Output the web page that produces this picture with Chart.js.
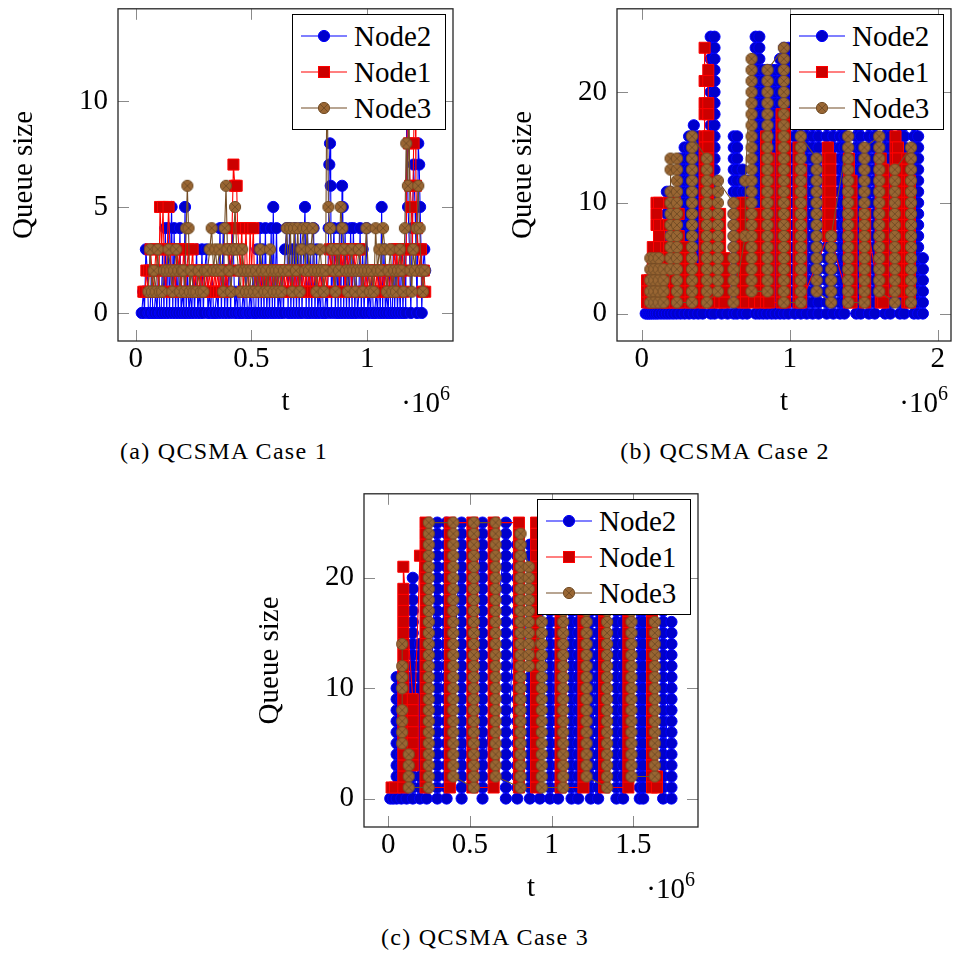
<!DOCTYPE html>
<html>
<head>
<meta charset="utf-8">
<title>QCSMA queue size</title>
<script src="https://cdn.jsdelivr.net/npm/chart.js@4.4.1/dist/chart.umd.min.js"></script>
<style>
  html, body { margin: 0; padding: 0; background: #fff; }
  body { position: relative; width: 955px; height: 954px; overflow: hidden;
         font-family: "Liberation Serif", "DejaVu Serif", "Noto Serif", serif; color: #000; }
  canvas { position: absolute; }
  .legend { position: absolute; width: 154px; height: 116px; box-sizing: border-box;
            border: 1.3px solid #000; background: #fff; }
  .legend .row { position: absolute; left: 8px; height: 36px; display: flex; align-items: center;
                 font-size: 29px; line-height: 1; white-space: nowrap; }
  .legend svg { margin-right: 7px; }
  .mult { position: absolute; font-size: 29px; line-height: 29px; white-space: nowrap; }
  .mult sup { font-size: 20px; vertical-align: 12px; line-height: 0; }
  .caption { position: absolute; font-size: 24px; letter-spacing: 1.3px; line-height: 24px;
             white-space: nowrap; transform: translateX(-50%); }
</style>
</head>
<body>
<canvas id="case1"></canvas>
<canvas id="case2"></canvas>
<canvas id="case3"></canvas>
<script>
// t is in thousands of time units, queue size in packets

const seriesNames = ["Node2", "Node1", "Node3"];

const case1XTicks = [0, 500, 1000];
const case1XTickText = ["0", "0.5", "1"];
const case1YTicks = [0, 5, 10];

const case2XTicks = [0, 1000, 2000];
const case2XTickText = ["0", "1", "2"];
const case2YTicks = [0, 10, 20];

const case3XTicks = [0, 500, 1000, 1500];
const case3XTickText = ["0", "0.5", "1", "1.5"];
const case3YTicks = [0, 10, 20];

// case 1: [t, queue]
const case1Node2 = [[26,0],[33,1],[38,0],[44,3],[50,2],[55,0],[62,0],[68,2],[74,0],[80,0],[86,1],[92,0],[98,2],[104,0],[110,0],[116,3],[122,0],[128,4],[134,0],[140,4],[146,0],[155,5],[160,0],[166,4],[172,0],[178,2],[184,0],[191,4],[196,0],[203,1],[208,0],[213,5],[218,0],[224,2],[230,0],[236,1],[242,0],[248,2],[254,0],[263,3],[268,0],[274,1],[280,0],[286,3],[292,0],[298,2],[306,3],[312,0],[318,1],[324,0],[330,2],[336,0],[342,0],[350,1],[356,0],[364,4],[370,0],[378,4],[384,0],[390,2],[396,0],[404,3],[410,0],[416,4],[422,3],[428,0],[434,1],[440,0],[446,2],[452,0],[458,0],[464,1],[470,0],[476,2],[482,0],[488,0],[494,1],[500,0],[506,2],[512,0],[518,0],[525,3],[530,0],[537,4],[542,0],[548,3],[554,0],[560,4],[566,0],[572,2],[578,0],[585,4],[590,0],[594,5],[600,0],[608,4],[614,0],[620,1],[626,0],[632,2],[638,0],[645,3],[652,4],[658,0],[664,4],[670,0],[676,3],[682,0],[688,4],[694,0],[700,3],[706,0],[712,4],[718,0],[725,3],[731,5],[736,0],[742,4],[748,0],[755,3],[760,0],[768,4],[774,0],[781,3],[786,0],[792,1],[798,0],[804,2],[810,0],[816,0],[822,1],[828,0],[833,4],[836,7],[839,8],[842,6],[845,0],[850,2],[856,4],[862,0],[868,3],[874,0],[880,4],[886,0],[891,6],[894,5],[898,0],[904,4],[910,0],[916,3],[922,0],[928,4],[934,0],[940,4],[946,0],[952,2],[958,0],[964,1],[969,4],[974,0],[980,3],[986,0],[992,2],[997,4],[1002,0],[1008,1],[1014,0],[1020,2],[1026,0],[1032,0],[1038,1],[1044,0],[1050,2],[1056,0],[1062,5],[1066,0],[1072,3],[1078,0],[1084,1],[1090,0],[1096,2],[1102,0],[1108,0],[1112,3],[1118,0],[1124,3],[1130,0],[1136,2],[1142,0],[1148,3],[1154,0],[1160,3],[1166,0],[1170,10],[1176,5],[1182,3],[1188,0],[1194,4],[1200,7],[1206,5],[1210,3],[1215,0],[1220,8],[1224,7],[1228,5],[1232,3],[1235,0],[1240,2],[1246,3],[1250,2]];

const case1Node1 = [[33,1],[40,1],[46,2],[52,1],[58,2],[64,3],[70,2],[76,1],[82,2],[88,3],[94,2],[100,1],[105,5],[112,3],[118,5],[124,2],[130,1],[136,3],[142,5],[148,3],[154,2],[160,1],[166,2],[172,1],[178,3],[184,2],[190,3],[196,1],[202,2],[208,3],[214,1],[220,2],[228,3],[234,1],[240,2],[246,3],[252,1],[258,2],[264,1],[270,2],[276,1],[282,2],[288,1],[294,2],[300,1],[306,2],[312,1],[318,2],[324,1],[330,2],[336,1],[342,2],[348,1],[354,2],[360,1],[366,2],[372,1],[378,2],[384,1],[390,2],[396,1],[402,3],[410,2],[416,4],[422,7],[428,6],[436,6],[440,4],[446,3],[452,2],[458,4],[464,1],[470,2],[476,4],[482,2],[488,1],[494,4],[500,2],[508,4],[514,1],[520,2],[526,1],[532,2],[538,1],[544,2],[550,1],[556,2],[562,1],[568,2],[574,1],[580,2],[586,1],[592,2],[598,1],[604,2],[610,1],[616,2],[622,1],[628,2],[634,1],[640,2],[646,1],[652,2],[658,1],[664,2],[670,1],[676,2],[682,1],[688,2],[694,1],[700,2],[706,1],[712,2],[718,1],[724,2],[730,1],[736,2],[742,1],[748,2],[754,1],[760,2],[766,1],[772,2],[778,1],[784,2],[790,1],[796,2],[802,1],[808,2],[814,1],[820,2],[826,1],[832,2],[838,3],[844,2],[850,3],[856,1],[862,3],[868,2],[874,3],[880,1],[886,3],[892,2],[898,3],[904,1],[911,3],[918,2],[925,3],[932,1],[940,3],[948,2],[955,3],[962,3],[969,3],[975,1],[982,2],[988,1],[994,2],[1000,1],[1006,2],[1012,1],[1018,2],[1024,1],[1030,2],[1036,1],[1042,2],[1048,1],[1054,2],[1060,1],[1066,2],[1072,1],[1078,2],[1084,1],[1090,2],[1096,1],[1102,2],[1108,1],[1115,3],[1122,2],[1128,3],[1134,1],[1140,3],[1146,2],[1152,3],[1158,1],[1164,2],[1168,3],[1174,11],[1180,8],[1185,6],[1190,5],[1195,3],[1200,8],[1206,12],[1210,6],[1214,4],[1220,3],[1226,2],[1232,3],[1238,1],[1244,2],[1250,1]];

const case1Node3 = [[55,1],[62,3],[70,1],[78,2],[86,1],[95,3],[104,1],[114,1],[122,2],[134,2],[142,3],[150,2],[158,1],[166,2],[175,3],[184,2],[192,1],[200,2],[206,2],[212,1],[218,4],[223,6],[228,4],[234,1],[240,2],[250,1],[262,1],[272,2],[282,1],[293,1],[300,2],[310,2],[320,3],[328,4],[336,2],[344,3],[352,2],[362,3],[370,2],[378,1],[384,4],[390,6],[396,3],[404,2],[412,1],[420,3],[429,5],[436,3],[444,2],[452,1],[460,3],[468,2],[476,1],[484,2],[492,1],[500,2],[510,1],[520,2],[530,1],[538,3],[546,2],[556,1],[564,2],[572,1],[580,3],[588,2],[596,1],[604,2],[612,1],[620,2],[630,1],[640,2],[652,4],[660,2],[668,4],[676,1],[684,4],[692,2],[700,4],[708,1],[716,3],[724,4],[732,2],[740,4],[748,2],[756,3],[764,4],[772,2],[780,1],[788,2],[796,3],[804,2],[812,1],[820,2],[826,12],[832,5],[839,4],[846,3],[854,2],[862,1],[870,3],[878,2],[885,5],[892,4],[900,3],[908,2],[916,1],[924,2],[932,3],[940,2],[948,1],[956,2],[964,3],[972,2],[980,1],[988,2],[996,4],[1004,2],[1012,1],[1020,2],[1028,1],[1036,4],[1044,2],[1052,3],[1060,2],[1068,4],[1076,3],[1084,1],[1092,2],[1100,3],[1108,1],[1116,2],[1124,1],[1132,2],[1140,3],[1148,2],[1156,1],[1162,4],[1168,8],[1175,6],[1180,10],[1186,2],[1192,1],[1198,3],[1206,2],[1214,4],[1220,6],[1226,4],[1232,2],[1240,1],[1248,2]];

// cases 2 and 3: [t, queue sizes logged at that t]
const case2Node2 = [
  [27,[0]],[40,[0,1,2]],[52,[3,2,1,0]],[65,[0,1,2,3,4]],[80,[4,3,2,1,0]],[95,[0,1,2,3,4,5]],[110,[5,4,3,2,1,0]],
  [130,[0,1,2,3,4,5,6,7]],[150,[8,7,6,5,4,3,2,1,0]],[170,[0,1,2,3,4,5,6,7,8,9,10,11]],[190,[11,10,9,8,7,6,5,4,3,2,1,0]],
  [212,[0,1,2,3,4,5,6,7,8,9,10]],[235,[9,8,7,6,5,4,3,2,1,0]],[262,[0,1,2,3,4,5,6,7,8,9,10,11,12,13,14]],
  [290,[15,14,13,12,11,10,9,8,7,6,5,4,3,2,1,0]],[320,[0,1,2,3,4,5,6,7,8,9,10,11,12,13,14,15,16]],
  [352,[17,16,15,14,13,12,11,10,9,8,7,6,5,4,3,2,1,0]],[382,[0,1,2,3,4,5,6,7,8,9,10,11,12,13,14,15,16]],
  [412,[8,7,6,5,4,3,2,1,0]],
  [466,[0,1,2,3,4,5,6,7,8,9,10,11,12,13,14,15,16,17,18,19,20,21,22,23,24,25]],
  [492,[25,24,23,22,21,20,19,18,17,16,15,14,13,12,11,10,9,8,7,6,5,4,3,2,1,0]],
  [540,[0]],[580,[0]],
  [622,[0,1,2,3,4,5,6,7,8,9,10,11,12,13,14,15,16]],[645,[16,15,14,13,12,11,10,9,8,7,6,5,4,3,2,1,0]],
  [682,[0,1,2,3,4,5,6,7,8,9,10,11,12,13]],[712,[12,11,10,9,8,7,6,5,4,3,2,1,0]],
  [770,[0,1,2,3,4,5,6,7,8,9,10,11,12,13,14,15,16,17,18,19,20,21,22,23,24,25]],
  [795,[25,24,23,22,21,20,19,18,17,16,15,14,13,12,11,10,9,8,7,6,5,4,3,2,1,0]],
  [822,[0,1,2,3,4,5,6,7,8,9,10,11,12,13,14,15,16,17,18,19,20,21,22]],
  [848,[22,21,20,19,18,17,16,15,14,13,12,11,10,9,8,7,6,5,4,3,2,1,0]],
  [878,[0,1,2,3,4,5,6,7,8,9,10,11,12,13,14,15,16,17,18,19,20,21,22]],
  [905,[22,21,20,19,18,17,16,15,14,13,12,11,10,9,8,7,6,5,4,3,2,1,0]],
  [935,[0,1,2,3,4,5,6,7,8,9,10,11,12,13,14,15,16,17,18,19,20,21,22,23]],
  [962,[24,23,22,21,20,19,18,17,16,15,14,13,12,11,10,9,8,7,6,5,4,3,2,1,0]],
  [992,[0,1,2,3,4,5,6,7,8,9,10,11,12,13,14,15,16,17,18,19,20,21,22,23,24]],
  [1035,[20,19,18,17,16,15,14,13,12,11,10,9,8,7,6,5,4,3,2,1,0]],
  [1075,[0,1,2,3,4,5,6,7,8,9,10,11,12,13,14,15,16,17,18]],
  [1115,[19,18,17,16,15,14,13,12,11,10,9,8,7,6,5,4,3,2,1,0]],
  [1155,[0,1,2,3,4,5,6,7,8,9,10,11,12,13,14,15,16,17,18,19,20]],
  [1195,[17,16,15,14,13,12,11,10,9,8,7,6,5,4,3,2,1,0]],
  [1250,[0,1,2,3,4,5,6,7,8,9,10,11,12,13,14,15,16,17,18,19,20,21]],
  [1295,[20,19,18,17,16,15,14,13,12,11,10,9,8,7,6,5,4,3,2,1,0]],
  [1340,[0,1,2,3,4,5,6,7,8,9,10,11,12,13,14,15,16,17,18]],
  [1370,[17,16,15,14,13,12,11,10,9,8,7,6,5,4,3,2,1,0]],
  [1450,[0,1,2,3,4,5,6,7,8,9,10,11,12,13,14,15,16,17,18,19,20]],
  [1480,[19,18,17,16,15,14,13,12,11,10,9,8,7,6,5,4,3,2,1,0]],
  [1535,[0,1,2,3,4,5,6,7,8,9,10,11,12,13,14,15,16,17,18,19,20,21]],
  [1575,[20,19,18,17,16,15,14,13,12,11,10,9,8,7,6,5,4,3,2,1,0]],
  [1645,[0,1,2,3,4,5,6,7,8,9,10,11,12,13,14,15,16,17,18,19,20,21]],
  [1680,[20,19,18,17,16,15,14,13,12,11,10,9,8,7,6,5,4,3,2,1,0]],
  [1745,[0,1,2,3,4,5,6,7,8,9,10,11,12,13,14,15,16,17,18,19]],
  [1775,[18,17,16,15,14,13,12,11,10,9,8,7,6,5,4,3,2,1,0]],
  [1840,[0,1,2,3,4,5,6,7,8,9,10,11,12,13,14,15,16,17,18,19,20]],
  [1868,[16,15,14,13,12,11,10,9,8,7,6,5,4,3,2,1,0]],
  [1900,[0,1,2,3,4,5]]
];

const case2Node1 = [
  [36,[1,2,3]],[55,[3,2,1]],[75,[1,2,3,4,5,6]],[100,[8,9,10]],[117,[10,8,7,6,5,4,3]],[140,[2,1]],
  [165,[1,2,3,4,5,6,8]],[185,[10,8,6,5,4,3,2,1]],[225,[1,2,3,4,5,6,7,8,10]],[250,[9,7,6,5,4,3,2,1]],
  [290,[1,2,3,4,5,6]],[330,[5,4,3,2,1]],[380,[1,2,3,4]],
  [425,[1,2,3,4,5,6,7,8,9,10,11,12,13,14,15,16,18,19,21,24]],
  [450,[22,21,19,18,16,15,14,13,12,11,10,9,8,7,6,5,4,3,2,1]],
  [495,[1,2,3,4,5,6,7,8,9]],[530,[9,8,7,6,5,4,3,2,1]],[560,[1,2,3,4,5]],
  [680,[1,2,3,4,5,6,7,8,9,10]],[705,[10,9,8,7,6,5,4,3,2,1]],
  [760,[1,2,3,4,5,6,7,8,9]],[800,[9,8,7,6,5,4,3,2,1]],
  [840,[1,2,3,4,5,6,7,8,9,10,11,12,13,14,15,16]],[862,[14,13,12,11,10,9,8,7,6,5,4,3,2,1]],
  [945,[1,2,3,4,5,6,7,8,9,10,11,12,13,14,15,16,17,18]],[968,[18,17,16,15,14,13,12,11,10,9,8,7,6,5,4,3,2,1]],
  [1060,[1,2,3,4,5,6,7,8,9,10,11,12,13,14,15]],[1078,[13,12,11,10,9,8,7,6,5,4,3,2,1]],
  [1258,[7,8,9,10,11,12,13,14,15]],[1275,[14,13,12,11,10,9,8,7]],
  [1400,[1,2,3,4,5,6,7,8,9,10,11,12,13,14]],[1418,[12,11,10,9,8,7,6,5,4,3,2,1]],
  [1510,[1,2,3,4,5,6,7,8,9]],
  [1615,[1,2,3,4,5,6,7,8,9,10,11,12,13,14]],[1632,[13,12,11,10,9,8,7,6,5,4,3,2,1]],
  [1715,[2,3,4,5,6,7,8,9,10,11,12,13,14,15,16]],[1732,[15,14,13,12,11,10,9,8,7,6,5,4,3,2]],
  [1795,[1,2,3,4,5,6,7,8,9,10,11,12,13,14]],[1812,[12,11,10,9,8,7,6,5,4,3,2,1]]
];

const case2Node3 = [
  [58,[1,2,3,4,5]],[85,[5,4,3,2,1]],[115,[1,2,3,4,5]],[148,[4,3,2,1]],
  [195,[4,5,6,7,8,9,10,11,13,14]],[238,[14,13,12,11,10,9,8,7,6,5,4,3,2,1]],
  [340,[1,2,3,4,5,6,7,8,9,10,11,12,13,14,15,16]],[440,[14,13,12,11,10,9,8,7,6,5,4,3,2,1]],
  [515,[2,3,4,5,6,7,8,9,10,11,12]],[620,[10,9,8,7,6,5,4,3,2,1]],[700,[7,12]],
  [742,[23,22,21,20,19,18,17,16,15,14,13,12,11,10,9,8,7,6,5,4,3,2]],
  [850,[2,3,4,5,6,7,8,9,10,11,12,13,14,15,16,17,18,19,20,21,22]],
  [960,[24,23,22,21,20,19,18,17,16,15,14,13,12,11,10,9,8,7,6,5,4,3,2,1]],
  [1075,[1,2,3,4,5,6,7,8,9,10,11,12,13,14,15,16]],[1182,[14,13,12,11,10,9,8,7,6,5,4,3,2]],
  [1280,[1,2,3,4,5,6,7]],[1395,[16,15,14,13,12,11,10,9,8,7,6,5,4,3,2,1]],
  [1505,[1,2,3,4,5,6,7,8,9,10,11,12,13,14,15]],[1605,[16,15,14,13,12,11,10,9,8,7,6,5,4,3,2]],
  [1710,[1,2,3,4,5,6,7,8,9,10,11,12,13]],[1820,[15,14,13,12,11,10,9,8,7,6,5,4,3,2,1]]
];

const case3Node2 = [
  [12,[0]],[30,[0]],[51,[11,10,9,8,7,6,5,4,3,2,1,0]],[80,[10,9,8,7,6,5,4,3,2,1,0]],
  [112,[11,10,9,8,7,6,5,4,3,2,1,0]],
  [150,[20,19,18,17,16,15,14,13,12,11,10,9,8,7,6,5,4,3,2,1,0]],
  [194,[14,13,12,11,10,9,8,7,6,5,4,3,2,1,0]],[235,[10,9,8,7,6,5,4,3,2,1,0]],
  [300,[25,24,23,22,21,20,19,18,17,16,15,14,13,12,11,10,9,8,7,6,5,4,3,2,1,0]],
  [357,[25,24,23,22,21,20,19,18,17,16,15,14,13,12,11,10,9,8,7,6,5,4,3,2,1,0]],
  [449,[25,24,23,22,21,20,19,18,17,16,15,14,13,12,11,10,9,8,7,6,5,4,3,2,1,0]],
  [577,[25,24,23,22,21,20,19,18,17,16,15,14,13,12,11,10,9,8,7,6,5,4,3,2,1,0]],
  [720,[25,24,23,22,21,20,19,18,17,16,15,14,13,12,11,10,9,8,7,6,5,4,3,2,1,0]],
  [790,[23,22,21,20,19,18,17,16,15,14,13,12,11,10,9,8,7,6,5,4,3,2,1,0]],
  [867,[23,22,21,20,19,18,17,16,15,14,13,12,11,10,9,8,7,6,5,4,3,2,1,0]],
  [928,[20,19,18,17,16,15,14,13,12,11,10,9,8,7,6,5,4,3,2,1,0]],
  [990,[22,21,20,19,18,17,16,15,14,13,12,11,10,9,8,7,6,5,4,3,2,1,0]],
  [1040,[21,20,19,18,17,16,15,14,13,12,11,10,9,8,7,6,5,4,3,2,1,0]],
  [1122,[20,19,18,17,16,15,14,13,12,11,10,9,8,7,6,5,4,3,2,1,0]],
  [1163,[19,18,17,16,15,14,13,12,11,10,9,8,7,6,5,4,3,2,1,0]],
  [1240,[21,20,19,18,17,16,15,14,13,12,11,10,9,8,7,6,5,4,3,2,1,0]],
  [1285,[20,19,18,17,16,15,14,13,12,11,10,9,8,7,6,5,4,3,2,1,0]],
  [1397,[19,18,17,16,15,14,13,12,11,10,9,8,7,6,5,4,3,2,1,0]],
  [1438,[18,17,16,15,14,13,12,11,10,9,8,7,6,5,4,3,2,1,0]],
  [1540,[20,19,18,17,16,15,14,13,12,11,10,9,8,7,6,5,4,3,2,1,0]],
  [1561,[19,18,17,16,15,14,13,12,11,10,9,8,7,6,5,4,3,2,1,0]],
  [1683,[18,17,16,15,14,13,12,11,10,9,8,7,6,5,4,3,2,1,0]],
  [1734,[16,15,14,13,12,11,10,9,8,7,6,5,4,3,2,1,0]]
];

const case3Node1 = [
  [20,[1]],[41,[1]],
  [92,[1,2,3,4,5,6,7,8,9,10,11,12,13,14,15,16,17,18,19,21]],
  [150,[9,8,7,6,5,4,3]],[194,[22]],
  [228,[25,24,23,22,21,20,19,18,17,16,15,14,13,12,11,10,9,8,7,6,5,4,3,2,1]],
  [377,[1,2,3,4,5,6,7,8,9,10,11,12,13,14,15,16,17,18,19,20,21,22,23,24,25]],
  [515,[25,24,23,22,21,20,19,18,17,16,15,14,13,12,11,10,9,8,7,6,5,4,3,2,1]],
  [645,[1,2,3,4,5,6,7,8,9,10,11,12,13,14,15,16,17,18,19,20,21,22,23,24,25]],
  [800,[25,24,23,22,21,20,19,18,17,16,15,14,13,12,11,10,9,8,7,6,5,4,3,2,1]],
  [905,[1,2,3,4,5,6,7,8,9,10,11,12,13,14,15,16,17,18,19,20,21,22,23,24,25]],
  [1055,[22,21,20,19,18,17,16,15,14,13,12,11,10,9,8,7,6,5,4,3,2,1]],
  [1195,[1,2,3,4,5,6,7,8,9,10,11,12,13,14,15,16,17,18,19,20,21,22]],
  [1322,[21,20,19,18,17,16,15,14,13,12,11,10,9,8,7,6,5,4,3,2,1]],
  [1470,[1,2,3,4,5,6,7,8,9,10,11,12,13,14,15,16,17,18,19,20]],
  [1615,[18,17,16,15,14,13,12,11,10,9,8,7,6,5,4,3,2,1]],
  [1645,[1,2]]
];

const case3Node3 = [
  [85,[14,12,11,10,8,7,6,5]],[125,[4,3,2,1]],
  [248,[1,2,3,4,5,6,7,8,9,10,11,12,13,14,15,16,17,18,19,20,21,22,23,24,25]],
  [398,[25,24,23,22,21,20,19,18,17,16,15,14,13,12,11,10,9,8,7,6,5,4,3,2]],
  [524,[1,2,3,4,5,6,7,8,9,10,11,12,13,14,15,16,17,18,19,20,21,22,23,24,25]],
  [657,[25,24,23,22,21,20,19,18,17,16,15,14,13,12,11,10,9,8,7,6,5,4,3,2]],
  [810,[1,2,3,4,5,6,7,8,9,10,11,12,13,14,15,16,17,18,19,20,21,22,23,24]],
  [860,[21,20,19,18,17,16,15,14,13,12]],
  [940,[16,15,14,13,12,11,10,9,8,7,6,5,4,3,2,1]],
  [1071,[1,2,3,4,5,6,7,8,9,10,11,12,13,14,15,16,17,18,19,20]],
  [1214,[20,19,18,17,16,15,14,13,12,11,10,9,8,7,6,5,4,3,2]],
  [1340,[1,2,3,4,5,6,7,8,9,10,11,12,13,14,15,16,17,18,19,20]],
  [1489,[19,18,17,16,15,14,13,12,11,10,9,8,7,6,5,4,3,2]],
  [1632,[2,3,4,5,6,7,8,9,10,11,12,13,14,15,16]]
];

Chart.defaults.font.family = '"Liberation Serif", "DejaVu Serif", "Noto Serif", serif';
Chart.defaults.font.size = 29;
Chart.defaults.color = "#000";

const node2Line = "#0000ff", node2Fill = "#0000cc";
const node1Line = "#ff0000", node1Fill = "#cc0000";
const node3Line = "#734d26", node3Fill = "#996633";

function pairsToPoints(pairs) {
  return pairs.map(([t, q]) => ({ x: t, y: q }));
}

function columnsToPoints(cols) {
  return cols.flatMap(([t, qs]) => qs.map(q => ({ x: t, y: q })));
}

function otimesMark() {
  const c = document.createElement("canvas");
  c.width = 14;
  c.height = 14;
  const g = c.getContext("2d");
  const r = 5.6, d = r * Math.SQRT1_2;
  g.beginPath();
  g.arc(7, 7, r, 0, Math.PI * 2);
  g.fillStyle = node3Fill;
  g.fill();
  g.lineWidth = 1;
  g.strokeStyle = node3Line;
  g.stroke();
  g.beginPath();
  g.moveTo(7 - d, 7 - d); g.lineTo(7 + d, 7 + d);
  g.moveTo(7 + d, 7 - d); g.lineTo(7 - d, 7 + d);
  g.stroke();
  return c;
}

const node3Mark = otimesMark();

// inward tick marks on all four sides plus the box
const frameTicks = {
  id: "frameTicks",
  beforeDatasetsDraw(chart) {
    const { ctx, chartArea: a, scales: { x, y } } = chart;
    ctx.save();
    ctx.strokeStyle = "#8a8a8a";
    ctx.lineWidth = 1;
    ctx.beginPath();
    x.ticks.forEach(t => {
      const px = Math.round(x.getPixelForValue(t.value)) + 0.5;
      ctx.moveTo(px, a.bottom); ctx.lineTo(px, a.bottom - 11);
      ctx.moveTo(px, a.top); ctx.lineTo(px, a.top + 11);
    });
    y.ticks.forEach(t => {
      const py = Math.round(y.getPixelForValue(t.value)) + 0.5;
      ctx.moveTo(a.left, py); ctx.lineTo(a.left + 11, py);
      ctx.moveTo(a.right, py); ctx.lineTo(a.right - 11, py);
    });
    ctx.stroke();
    ctx.restore();
  },
  afterDatasetsDraw(chart) {
    const { ctx, chartArea: a } = chart;
    ctx.save();
    ctx.strokeStyle = "#262626";
    ctx.lineWidth = 1.3;
    ctx.strokeRect(a.left, a.top, a.right - a.left, a.bottom - a.top);
    ctx.restore();
  }
};

function drawPanel(id, plot, xMin, xMax, yMin, yMax, xTicks, xTickText, yTicks, node2, node1, node3) {

  const yAxisWidth = 118, xAxisHeight = 80, padTop = 6, padRight = 20;

  const canvas = document.getElementById(id);
  const w = (plot.right - plot.left) + yAxisWidth + padRight;
  const h = (plot.bottom - plot.top) + padTop + xAxisHeight;
  canvas.width = w;
  canvas.height = h;
  canvas.style.width = w + "px";
  canvas.style.height = h + "px";
  canvas.style.left = (plot.left - yAxisWidth) + "px";
  canvas.style.top = (plot.top - padTop) + "px";

  new Chart(canvas, {
    type: "line",
    data: {
      datasets: [
        {
          label: seriesNames[0], data: node2, order: 3,
          borderColor: node2Line, borderWidth: 1.1,
          pointStyle: "circle", pointRadius: 5.6,
          pointBackgroundColor: node2Fill, pointBorderColor: node2Line, pointBorderWidth: 1
        },
        {
          label: seriesNames[1], data: node1, order: 2,
          borderColor: node1Line, borderWidth: 1.1,
          pointStyle: "rect", pointRadius: 7.8,
          pointBackgroundColor: node1Fill, pointBorderColor: node1Line, pointBorderWidth: 1
        },
        {
          label: seriesNames[2], data: node3, order: 1,
          borderColor: node3Line, borderWidth: 1.1,
          pointStyle: node3Mark, pointRadius: 5.6
        }
      ]
    },
    options: {
      responsive: false,
      animation: false,
      devicePixelRatio: 1,
      events: [],
      layout: { padding: { top: padTop, right: padRight, left: 0, bottom: 0 } },
      plugins: { legend: { display: false }, tooltip: { enabled: false } },
      elements: { line: { tension: 0 } },
      scales: {
        x: {
          type: "linear", min: xMin, max: xMax,
          afterFit: s => {
            s.height = xAxisHeight;
            s.paddingLeft = 0; s.paddingRight = 0;
          },
          afterBuildTicks: s => { s.ticks = xTicks.map(v => ({ value: v })); },
          ticks: { padding: 1, maxRotation: 0, autoSkip: false, callback: (v, i) => xTickText[i] },
          grid: { display: false, drawTicks: false },
          border: { display: false },
          title: { display: true, text: "t", padding: { top: 0, bottom: 1 } }
        },
        y: {
          type: "linear", min: yMin, max: yMax,
          afterFit: s => {
            s.width = yAxisWidth;
            s.paddingTop = 0; s.paddingBottom = 0;
          },
          afterBuildTicks: s => { s.ticks = yTicks.map(v => ({ value: v })); },
          ticks: { padding: 10, autoSkip: false, callback: v => String(v) },
          grid: { display: false, drawTicks: false },
          border: { display: false },
          title: { display: true, text: "Queue size", padding: { top: 7, bottom: 0 } }
        }
      }
    },
    plugins: [frameTicks]
  });

  addLegend(plot);
  addMultiplier(plot);
}

function markSvg(i) {
  const colors = [node2Line, node1Line, node3Line];
  let mark;
  if (i === 0) {
    mark = `<circle cx="23" cy="10" r="5.6" fill="${node2Fill}" stroke="${node2Line}" stroke-width="1"/>`;
  } else if (i === 1) {
    mark = `<rect x="17.5" y="4.5" width="11" height="11" fill="${node1Fill}" stroke="${node1Line}" stroke-width="1"/>`;
  } else {
    mark = `<circle cx="23" cy="10" r="5.6" fill="${node3Fill}" stroke="${node3Line}" stroke-width="1"/>` +
      `<path d="M19.04 6.04 L26.96 13.96 M26.96 6.04 L19.04 13.96" stroke="${node3Line}" stroke-width="1"/>`;
  }
  return `<svg width="46" height="20" viewBox="0 0 46 20">` +
    `<line x1="0" y1="10" x2="46" y2="10" stroke="${colors[i]}" stroke-width="1.1"/>` + mark + `</svg>`;
}

function addLegend(plot) {
  const box = document.createElement("div");
  box.className = "legend";
  box.style.left = (plot.right - 7 - 154) + "px";
  box.style.top = (plot.top + 8) + "px";
  box.innerHTML = seriesNames.map((name, i) =>
    `<div class="row" style="top:${3 + i * 36}px">${markSvg(i)}<span>${name}</span></div>`
  ).join("");
  document.body.appendChild(box);
}

function addMultiplier(plot) {
  const m = document.createElement("div");
  m.className = "mult";
  m.style.right = (955 - (plot.right - 3)) + "px";
  m.style.top = (plot.bottom + 47) + "px";
  m.innerHTML = "·10<sup>6</sup>";
  document.body.appendChild(m);
}

function addCaption(text, cx, top) {
  const c = document.createElement("div");
  c.className = "caption";
  c.style.left = cx + "px";
  c.style.top = top + "px";
  c.textContent = text;
  document.body.appendChild(c);
}

drawPanel("case1", { left: 118, top: 6, right: 453, bottom: 341 },
  -76.4, 1370, -1.324, 14.35,
  case1XTicks, case1XTickText, case1YTicks,
  pairsToPoints(case1Node2), pairsToPoints(case1Node1), pairsToPoints(case1Node3));

drawPanel("case2", { left: 617, top: 6, right: 951, bottom: 341 },
  -166.9, 2090, -2.48, 27.52,
  case2XTicks, case2XTickText, case2YTicks,
  columnsToPoints(case2Node2), columnsToPoints(case2Node1), columnsToPoints(case2Node3));

drawPanel("case3", { left: 364, top: 491, right: 698, bottom: 827 },
  -148.8, 1896.5, -2.58, 27.61,
  case3XTicks, case3XTickText, case3YTicks,
  columnsToPoints(case3Node2), columnsToPoints(case3Node1), columnsToPoints(case3Node3));

addCaption("(a) QCSMA Case 1", 224, 439);
addCaption("(b) QCSMA Case 2", 725, 439);
addCaption("(c) QCSMA Case 3", 485, 925);
</script>
</body>
</html>
